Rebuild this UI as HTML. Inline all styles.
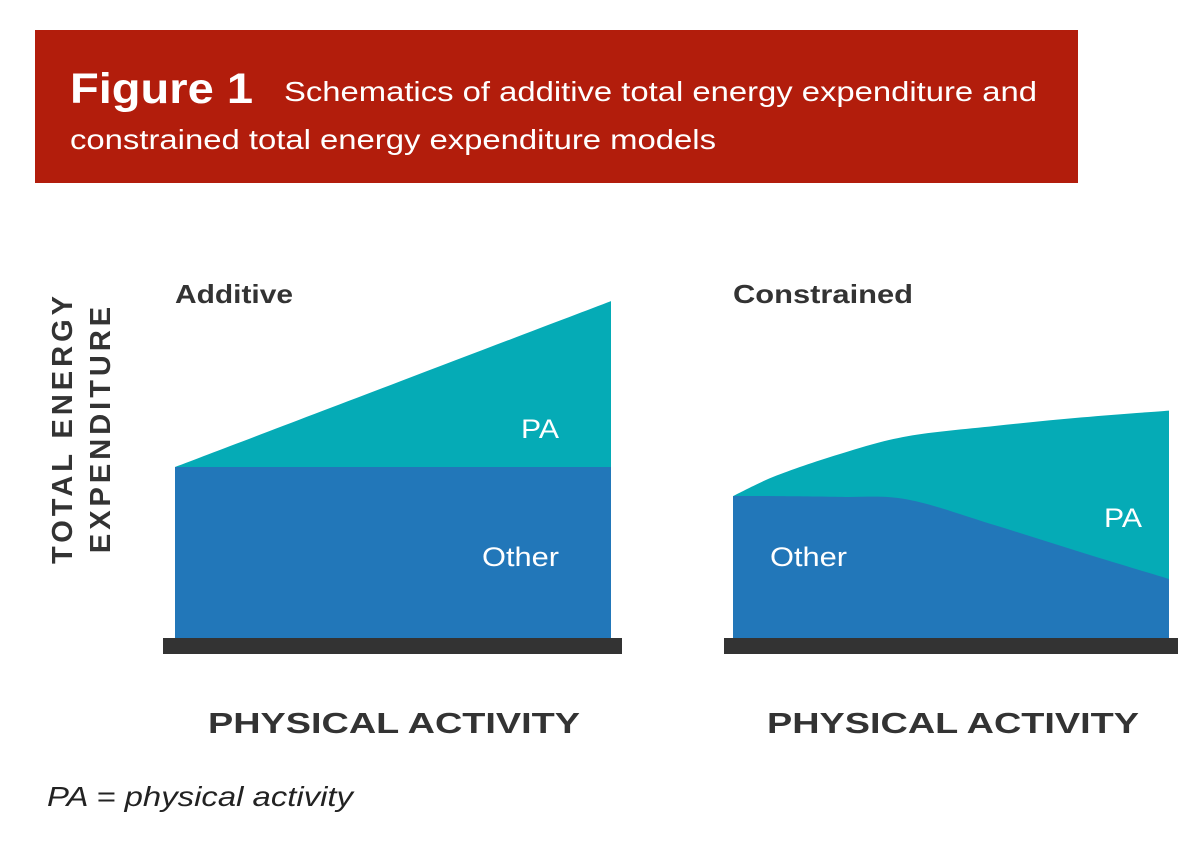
<!DOCTYPE html>
<html><head><meta charset="utf-8">
<style>
body{margin:0;width:1200px;height:844px;background:#fff;overflow:hidden;font-family:"Liberation Sans",sans-serif;}
svg{display:block}
</style></head>
<body>
<svg id="fig" width="1200" height="844" viewBox="0 0 1200 844">
  <rect x="35" y="30" width="1043" height="153" fill="#b21d0c"/>
  <text x="70" y="103" fill="#fff" font-size="43" font-weight="bold" textLength="183" lengthAdjust="spacingAndGlyphs">Figure 1</text>
  <text x="284" y="101" fill="#fff" font-size="28" textLength="753" lengthAdjust="spacingAndGlyphs">Schematics of additive total energy expenditure and</text>
  <text x="70" y="149" fill="#fff" font-size="28" textLength="646" lengthAdjust="spacingAndGlyphs">constrained total energy expenditure models</text>
  <g transform="translate(0,428) rotate(-90)" fill="#333" font-size="29" font-weight="bold" letter-spacing="4" text-anchor="middle">
    <text x="0" y="72">TOTAL ENERGY</text>
    <text x="0" y="110">EXPENDITURE</text>
  </g>
  <g id="panels"></g>
  <text x="47" y="806" fill="#222" font-size="28" font-style="italic" textLength="306" lengthAdjust="spacingAndGlyphs">PA = physical activity</text>
</svg>
<script>
// Additive model
const addActivity=[0,1];
const addOther=[100,100];
const addTotal=[100,197];
// Constrained model
const conActivity=[0,0.1,0.25,0.4,0.6,0.8,1];
const conOther=[83,83,82.5,81,66,50,34.5];
const conTotal=[83,95,108,118,124,129,133];

const NS="http://www.w3.org/2000/svg";
const g=document.getElementById('panels');
function el(tag,attrs,parent){const e=document.createElementNS(NS,tag);for(const k in attrs)e.setAttribute(k,attrs[k]);(parent||g).appendChild(e);return e;}
function yScale(v){return 638-v*1.71;}
function smoothPath(pts){
  let d="M"+pts[0][0]+","+pts[0][1];
  for(let i=0;i<pts.length-1;i++){
    const p0=pts[i-1]||pts[i],p1=pts[i],p2=pts[i+1],p3=pts[i+2]||p2;
    const c1=[p1[0]+(p2[0]-p0[0])/6,p1[1]+(p2[1]-p0[1])/6];
    const c2=[p2[0]-(p3[0]-p1[0])/6,p2[1]-(p3[1]-p1[1])/6];
    d+=" C"+c1[0]+","+c1[1]+" "+c2[0]+","+c2[1]+" "+p2[0]+","+p2[1];
  }
  return d;
}
function panel(x0,x1,acts,other,total,name,title,titleW,paPos,otherPos,barX0,barX1){
  const xs=a=>x0+a*(x1-x0);
  const tp=acts.map((a,i)=>[xs(a),yScale(total[i])]);
  const op=acts.map((a,i)=>[xs(a),yScale(other[i])]);
  const base=yScale(0);
  const pa=el('path',{d:smoothPath(tp)+" L"+x1+","+base+" L"+x0+","+base+" Z",fill:"#05abb6"});
  
  
  const ot=el('path',{d:smoothPath(op)+" L"+x1+","+base+" L"+x0+","+base+" Z",fill:"#2277b9"});
  
  
  const bar=el('rect',{x:barX0,y:638,width:barX1-barX0,height:16,fill:"#333"});
  
  
  const t=el('text',{x:x0,y:303,fill:"#333","font-size":26,"font-weight":"bold",textLength:titleW,lengthAdjust:"spacingAndGlyphs"});t.textContent=title;
  
  
  const l1=el('text',{x:paPos[0],y:paPos[1],fill:"#fff","font-size":27,textLength:38,lengthAdjust:"spacingAndGlyphs"});l1.textContent="PA";
  
  
  const l2=el('text',{x:otherPos[0],y:otherPos[1],fill:"#fff","font-size":27,textLength:77,lengthAdjust:"spacingAndGlyphs"});l2.textContent="Other";
  
  
  const xl=el('text',{x:(barX0+barX1)/2-78+ (name==='additive'?-8:-6) ,y:733,fill:"#333","font-size":29,"font-weight":"bold",textLength:372,lengthAdjust:"spacingAndGlyphs"});xl.textContent="PHYSICAL ACTIVITY";
  xl.setAttribute('x', name==='additive'?208:767);
  
  
}
panel(175,611,addActivity,addOther,addTotal,'additive','Additive',118,[521,438],[482,566],163,622);
panel(733,1169,conActivity,conOther,conTotal,'constrained','Constrained',180,[1104,527],[770,566],724,1178);
</script>
</body></html>
